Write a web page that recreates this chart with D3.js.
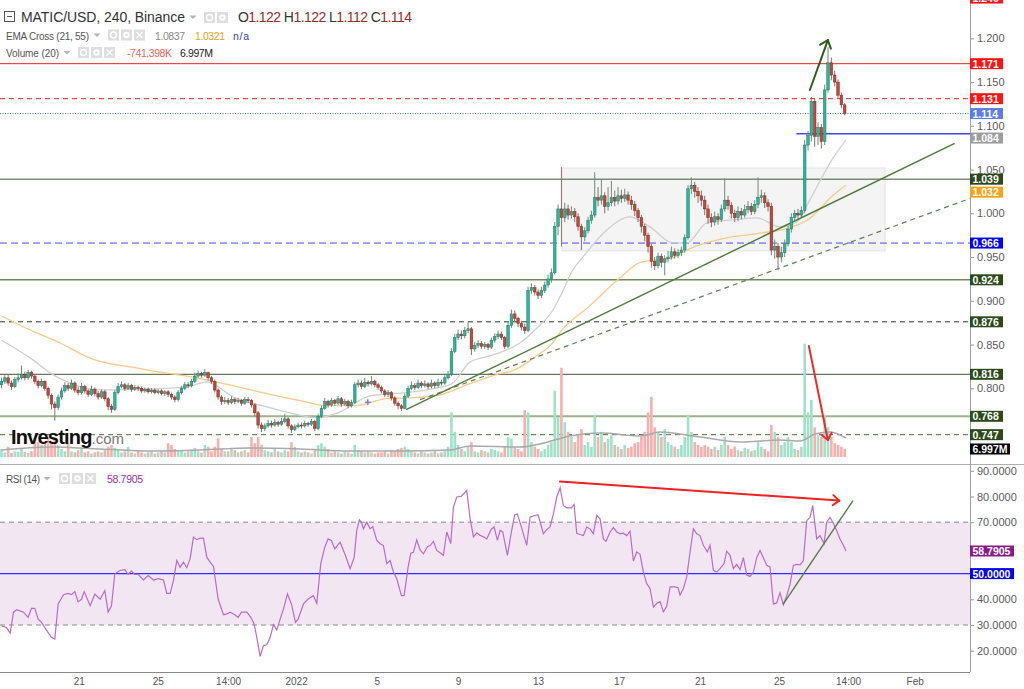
<!DOCTYPE html>
<html><head><meta charset="utf-8">
<script src="https://cdn.jsdelivr.net/npm/d3@7"></script>
<style>body{margin:0;background:#fff;}svg{display:block;font-family:"Liberation Sans",Arial,sans-serif;}</style>
</head><body><svg id="c" width="1024" height="689"></svg>
<script>
// ---------------- DATA ----------------
const firstOpen = 0.804;
const closes = [0.808,0.812,0.806,0.802,0.810,0.812,0.816,0.812,0.818,0.814,
0.808,0.803,0.808,0.800,0.792,0.782,0.778,0.790,0.797,0.803,
0.800,0.806,0.798,0.795,0.802,0.797,0.793,0.799,0.794,0.790,
0.796,0.788,0.779,0.776,0.795,0.802,0.804,0.800,0.803,0.799,
0.801,0.800,0.797,0.799,0.796,0.798,0.795,0.797,0.794,0.796,
0.793,0.790,0.787,0.795,0.800,0.804,0.803,0.808,0.814,0.817,
0.815,0.818,0.812,0.808,0.798,0.790,0.785,0.786,0.784,0.787,
0.785,0.786,0.783,0.787,0.786,0.781,0.772,0.758,0.754,0.757,
0.760,0.758,0.761,0.759,0.762,0.765,0.757,0.753,0.756,0.758,
0.757,0.760,0.759,0.762,0.754,0.768,0.777,0.785,0.781,0.786,
0.783,0.788,0.782,0.785,0.780,0.784,0.804,0.806,0.802,0.807,
0.805,0.808,0.804,0.801,0.797,0.793,0.795,0.789,0.783,0.780,
0.777,0.791,0.800,0.803,0.801,0.806,0.803,0.805,0.802,0.806,
0.803,0.807,0.806,0.812,0.816,0.842,0.858,0.862,0.860,0.866,
0.868,0.845,0.849,0.851,0.848,0.850,0.847,0.855,0.859,0.862,
0.858,0.848,0.872,0.885,0.880,0.874,0.870,0.866,0.912,0.915,
0.910,0.906,0.912,0.918,0.925,0.932,0.985,1.005,0.995,1.005,
0.998,1.002,0.996,0.985,0.973,0.980,0.992,0.998,1.018,1.015,
1.020,1.008,1.012,1.018,1.014,1.020,1.017,1.021,1.015,1.010,
1.003,0.995,0.985,0.975,0.962,0.945,0.940,0.951,0.944,0.948,
0.950,0.956,0.952,0.955,0.958,0.972,1.028,1.032,1.025,1.020,
1.015,1.005,0.995,0.990,0.996,0.993,1.005,1.015,1.009,1.000,
0.995,1.002,0.998,1.004,1.008,1.002,1.010,1.018,1.020,1.012,
1.008,0.958,0.962,0.950,0.955,0.965,0.982,0.995,1.000,0.998,
1.003,1.078,1.089,1.128,1.088,1.098,1.082,1.141,1.172,1.158,
1.150,1.135,1.124,1.114];
const highs = [.812,.815,.816,.809,.813,.817,.826,.819,.821,.820,
.816,.810,.811,.809,.802,.794,.785,.793,.801,.807,
.806,.810,.808,.802,.806,.804,.799,.803,.801,.797,
.799,.798,.790,.782,.798,.806,.808,.806,.806,.805,
.804,.803,.802,.801,.801,.800,.800,.799,.799,.798,
.798,.795,.792,.798,.803,.807,.807,.811,.818,.820,
.819,.822,.819,.814,.810,.800,.792,.790,.789,.791,
.789,.789,.788,.790,.790,.788,.783,.774,.761,.760,
.764,.763,.765,.763,.766,.771,.767,.759,.759,.761,
.761,.763,.762,.765,.764,.771,.780,.789,.787,.789,
.788,.791,.790,.788,.787,.787,.807,.810,.809,.812,
.809,.814,.810,.806,.803,.799,.798,.797,.791,.785,
.782,.794,.803,.808,.806,.810,.808,.809,.807,.810,
.808,.811,.810,.815,.820,.846,.862,.867,.866,.870,
.876,.870,.853,.855,.854,.853,.852,.858,.863,.866,
.865,.860,.876,.890,.889,.882,.877,.874,.916,.920,
.918,.913,.916,.922,.930,.937,.990,1.010,1.053,1.012,
1.010,1.008,1.006,1.000,.988,.984,.996,1.003,1.047,1.030,
1.038,1.024,1.030,1.037,1.026,1.030,1.027,1.028,1.025,1.020,
1.014,1.006,.998,.988,.978,.965,.950,.955,.954,.952,
.957,.962,.960,.959,.962,.976,1.032,1.041,1.036,1.030,
1.026,1.020,1.010,1.000,1.002,1.000,1.010,1.040,1.020,1.013,
1.004,1.008,1.006,1.010,1.014,1.012,1.015,1.041,1.027,1.024,
1.016,1.012,.970,.966,.962,.970,.986,1.000,1.004,1.005,
1.008,1.084,1.094,1.133,1.131,1.104,1.102,1.147,1.190,1.178,
1.163,1.153,1.138,1.126];
const lows = [.800,.805,.803,.798,.800,.807,.810,.809,.810,.811,
.805,.800,.801,.797,.788,.776,.763,.775,.787,.795,
.797,.798,.795,.792,.793,.794,.790,.791,.791,.787,
.788,.785,.775,.772,.774,.793,.800,.797,.798,.796,
.797,.797,.795,.795,.794,.794,.793,.793,.792,.791,
.790,.787,.784,.785,.793,.798,.800,.801,.806,.812,
.812,.813,.809,.805,.795,.787,.781,.782,.781,.782,
.782,.783,.780,.781,.783,.778,.768,.754,.750,.751,
.755,.755,.756,.756,.757,.760,.754,.749,.751,.754,
.754,.755,.756,.757,.751,.752,.766,.775,.778,.779,
.780,.781,.779,.780,.777,.778,.782,.801,.799,.800,
.802,.803,.801,.798,.794,.790,.790,.786,.780,.776,
.774,.776,.789,.798,.798,.799,.800,.801,.799,.800,
.800,.801,.803,.804,.810,.814,.840,.855,.856,.857,
.863,.838,.842,.846,.845,.845,.844,.845,.852,.856,
.855,.845,.846,.869,.876,.870,.866,.862,.864,.908,
.906,.902,.903,.909,.915,.921,.930,.975,.962,.990,
.993,.994,.990,.980,.958,.968,.977,.988,.995,1.008,
1.010,1.000,1.003,1.008,1.008,1.010,1.012,1.013,1.010,1.004,
.997,.990,.978,.968,.955,.938,.935,.937,.938,.929,
.944,.947,.948,.949,.951,.955,.970,1.022,1.018,1.012,
1.008,.998,.988,.984,.986,.987,.990,1.002,1.004,.994,
.990,.991,.993,.995,1.000,.998,.999,1.006,1.012,1.006,
1.002,.952,.948,.935,.944,.950,.962,.978,.991,.993,
.995,1.000,1.072,1.082,1.076,1.078,1.074,1.078,1.138,1.152,
1.145,1.131,1.120,1.112];
// volume, millions
const volumes = [7,4,9,3.5,5,4.5,7,4.5,3.5,5,
15,13,10.5,14,17.5,12,16,10.5,7,5,
12,5,4,6,7,4,5,3,4,5,
4,6,9,10.5,8,6,4,5,9,4,
3,5,4,3,4,5,3,4,5,4,
12,10.5,7,5,6,4,5,6,8,5,
4,10.5,9,5,9,16.5,7,5,5,8,
6,4,5,6,4,17.5,12,17.5,10.5,6,
5,4,7,5,4,6,5,13,9,5,
4,5,4,3,6,10.5,12,9,7,4,
5,4,3,5,4,3,10.5,6,5,4,
5,4,3,4,4,5,3,6,5,7,
8,9,7,5,4,3,5,4,3,4,
5,3,4,5,9,39,22,10.5,7,5,
9,13,5,4,6,5,4,7,6,5,
4,9,17.5,16,8,7,5,41,39,13,
9,7,5,7,10.5,13,58,35,78,30.5,
22,17.5,13,19,24.5,10.5,13,9,37,17.5,
22,13,16,19,10.5,9,7,10.5,8,9,
12,13,17.5,22,39,52.5,26,22,17.5,24.5,
13,10.5,9,7,10.5,17.5,37,22,13,10.5,
9,10.5,9,7,9,6,10.5,17.5,10.5,7,
9,6,5,8,7,5,6,13,9,7,
5,28,22,17.5,10.5,13,17.5,13,7,6,
9,99,39,50,26,19,17.5,37,26,17.5,
12,10.5,9,7];
// volume moving average (20), read as [candle index, value]
const volMA = [[0,6.1],[14.6,8.7],[29.6,7],[44.6,5.2],[59.6,6.1],[74.6,7.9],[89.6,7],[104.6,5.2],[119.6,5.2],[134.6,6.1],[140.6,9.6],[155.6,8.7],[161.6,11.4],[170.6,18.4],[179.6,21],[191.6,18.4],[197.6,21.9],[209.6,17.5],[221.6,13.1],[233.6,14.9],[239.6,14],[244.1,20.1],[248.6,21.9],[253.4,16.6]];
// EMA 21 (grey) and EMA 55 (orange), read as [candle index, price]
const emaFast = [[0,0.855],[9.45,0.8325],[14.55,0.8176],[19.65,0.8073],[29.55,0.7982],[44.55,0.7993],[55.65,0.8016],[61.65,0.8073],[69.45,0.7902],[79.65,0.7787],[86.55,0.7719],[94.65,0.7662],[101.55,0.773],[110.55,0.7913],[120.45,0.7947],[130.65,0.8004],[135.45,0.8061],[140.55,0.8301],[147.45,0.8381],[155.55,0.8518],[160.65,0.869],[165.45,0.8895],[167.55,0.9044],[171.45,0.9353],[174.45,0.9502],[181.65,0.981],[188.55,0.9959],[194.55,0.9845],[201.45,0.9662],[205.65,0.9662],[211.65,0.989],[219.45,0.9925],[226.65,0.9948],[233.55,0.9845],[238.65,0.9902],[242.55,1.0154],[249.15,1.0611],[253.35,1.0837]];
const emaSlow = [[0,0.8826],[8.55,0.8667],[17.55,0.8518],[26.55,0.8346],[41.55,0.8225],[59.55,0.8111],[69.45,0.8031],[79.65,0.7939],[89.55,0.7859],[97.65,0.7802],[106.05,0.7802],[115.65,0.7882],[123.45,0.7893],[130.65,0.7916],[140.55,0.8053],[149.55,0.8168],[153.45,0.8202],[160.65,0.8374],[165.45,0.8522],[167.55,0.8637],[176.55,0.8945],[184.65,0.9231],[191.55,0.9437],[201.45,0.9494],[206.55,0.9597],[216.45,0.9711],[226.65,0.9768],[236.55,0.9837],[241.65,0.9917],[249.45,1.0203],[253.35,1.0321]];
// RSI(14), read as [candle index, value]
const rsiPoints = [[0,29.7],[1.5,29],[2.6,26.8],[3.6,35],[4.6,36],[6.6,35],[8,33],[9,36.5],[10,36.5],[11,32.3],[12,31],[13.6,27.8],[15,25.2],[16,24.5],[17,38.2],[18.6,41.8],[20,42.3],[21,41.8],[22,43],[23,39],[24,40],[24.8,43],[26.6,37.5],[28,42],[29.6,40],[31,43.4],[32,35],[33,37.5],[34,49.9],[35.6,51.2],[37,51.5],[38,49.7],[39,51],[40,49.7],[41,49.7],[42.6,47.5],[44,49.2],[45.6,47.5],[47,48],[48.6,47.5],[49.6,42.3],[50.6,42.3],[51.6,47.3],[52.6,55.1],[53.6,52.5],[54.6,54.5],[55.6,52.3],[56.6,55.8],[57.6,64.2],[58.6,63.2],[59.6,63.8],[60.6,63.8],[61.6,56.4],[62.6,54.5],[63.6,52.8],[65,40.1],[66.6,34],[67.6,34.3],[68.6,35],[70,34],[71,33],[72,35],[73.6,35],[74.8,33],[75.8,30.4],[76.6,25.2],[77.6,17.8],[78.6,22],[79.6,22.3],[80.6,25.2],[81.6,30.1],[82.6,28.1],[83.6,32.3],[84.6,36.2],[85.8,42.1],[87,38.2],[88.2,31],[89,32.3],[90.6,38.2],[92,40.1],[93.6,41.4],[94.6,38.4],[95.8,53.9],[97,60.3],[98,63.5],[99,62.9],[100,59.6],[101.6,62.2],[103,57.7],[104.6,51.9],[105.8,56.2],[106.6,66.8],[107.4,70.9],[108,70],[108.6,67.4],[109.6,70],[110.6,67.4],[111.4,68.3],[112.6,62.9],[113.6,61.6],[114.6,60.9],[115.6,53.9],[116.6,55.1],[117.6,50.6],[118.6,48],[120,41.4],[120.8,41.4],[122,52.5],[122.8,57.9],[123.6,58.3],[124.6,63.1],[125.6,59.2],[126.6,57.7],[127.8,60.5],[128.6,60.9],
[129.6,62.5],[130.6,59],[132,57.7],[132.6,57.1],[133.6,66.2],[134.8,61.7],[135.6,75.9],[136.6,79.8],[138,80.1],[139.6,82.4],[140.6,71.4],[141.6,64.3],[142.6,65.8],[143.6,64.9],[144.6,64.3],[145.6,63.5],[147,67.4],[147.8,68.1],[148.8,62.9],[149.6,66.8],[150.4,66.2],[151.8,57.1],[153,66.2],[154,72.9],[154.8,73.2],[156,68.1],[157.6,61],[158.6,72],[160,72.6],[161,72.9],[162.6,65.5],[163.4,66.8],[164.6,68.3],[165.6,73.2],[166.6,79.7],[167.6,83.4],[168.6,76.5],[169.6,75.6],[171,75.6],[171.8,76.9],[172.6,65.7],[173.6,65.2],[174.6,64.8],[175.6,68.1],[176.6,67.4],[177.6,65.5],[178.6,72.6],[179.6,71.3],[180.6,63.5],[181.4,62.6],[182.6,66.2],[183.6,67.9],[184.6,66.2],[185.6,65.5],[186.6,65.7],[187.6,64.8],[188.6,66.5],[189.6,54.9],[190.6,58.4],[191.6,57.5],[192.6,50.6],[193.6,46.1],[194.6,44.2],[195.6,37],[196.8,38.6],[197.6,39.1],[198.6,35.1],[199.6,37.3],[200.6,44.8],[202,44.8],[203,44.5],[203.6,41.6],[204.6,44.2],[205.6,48.7],[206.6,58.4],[207.6,67.4],[208.6,65.5],[209.6,64.8],[210.6,61],[211.8,58.4],[212.6,61],[213.6,51.3],[214.6,50.6],[215.6,51.9],[216.8,53.9],[217.6,58.7],[218.6,57.1],[219.6,51.9],[220.6,53.6],[221.6,51.6],[222.6,56.2],[223.6,49.4],[224.6,48.9],[225.6,50.6],[226.6,56.2],[227.6,59],[228.6,56.2],[229.6,53.2],[230.6,52.6],[231.6,38.2],[232.6,38.6],[233.6,42.5],[234.6,37.9],[235.6,41.4],[236.6,45.8],[237.6,53.2],[238.6,53.6],[239.6,53.4],[240.6,55.1],[241.6,70.6],[242.6,71.9],[243.4,76.5],[244.6,63.5],[245.6,64.8],[246.8,61.6],[247.6,70],[248.6,71.9],[249.6,69.6],[250.6,66.8],[251.6,63.5],[252.6,61],[253.4,58.79]];
// horizontal levels
const levelPrices = [1.171, 1.131, 1.039, 0.966, 0.924, 0.876, 0.816, 0.768, 0.747];
const lastPrice = 1.114;
const shortLevel = {from: 238.5, price: 1.091};
const emaFastLast = 1.0837, emaSlowLast = 1.0321;
const lastVolume = 6.997;
const rsiLast = 58.7905;
const topCutLevel = 1.246;
// ticks
const priceTicks = [0.800,0.850,0.900,0.950,1.000,1.050,1.100,1.150,1.200];
const rsiTicks = [20,30,40,70,80,90];
const xTickIdx = [23.2, 46.9, 68, 88.4, 112.6, 137, 161, 185.3, 209.6, 233.3, 254, 274];
const xTickLabels = ["21","25","14:00","2022","5","9","13","17","21","25","14:00","Feb"];
// annotations (candle index, price / volume / rsi)
const rangeBox = {i0:168.2, i1:265.1, p0:0.957, p1:1.0518};
const trendSolid = [[121.4,0.7755],[286,1.080]];
const trendDashed = [[125.6,0.787],[290.6,1.017]];
const greenArrow = [[242.55,1.1409],[247.95,1.1979]];
const volArrow = [[242.25,97],[247.95,14.9]];
const rsiArrow = [[167.6,85.8],[251.35,78.4]];
const rsiTrend = [[234.5,38.05],[255.5,78.4]];
const marker = [109.9,0.784];

// ---------------- DRAW ----------------
const svg = d3.select("#c");
svg.append("rect").attr("width",1024).attr("height",689).attr("fill","#fff");
const AX = 970;
const x = d3.scaleLinear().domain([0,290.6]).range([1.5,970]);
const y = d3.scaleLinear().domain([0.8,1.2]).range([388.3,38.3]);
const yv = d3.scaleLinear().domain([0,100]).range([457,342.6]);
const yr = d3.scaleLinear().domain([20,90]).range([650.7,470.8]);

const defs = svg.append("defs");
defs.append("clipPath").attr("id","cm").append("rect").attr("x",0).attr("y",0).attr("width",AX).attr("height",463);
defs.append("clipPath").attr("id","cr").append("rect").attr("x",0).attr("y",466).attr("width",AX).attr("height",205);

const main = svg.append("g").attr("clip-path","url(#cm)");

// range box
main.append("rect").attr("x",x(rangeBox.i0)).attr("width",x(rangeBox.i1)-x(rangeBox.i0))
  .attr("y",y(rangeBox.p1)).attr("height",y(rangeBox.p0)-y(rangeBox.p1))
  .attr("fill","#efefef").attr("fill-opacity",0.7).attr("stroke","#e4e4e4");

// levels
const levelStyles = [
 {c:"#e52222",w:1,d:null,t:"#ff1414"},
 {c:"#e52222",w:1,d:"5,4",t:"#ff1414"},
 {c:"#3f5733",w:1,d:null,t:"#2b4a1b"},
 {c:"#4a4af0",w:1,d:"7,4",t:"#0000ff"},
 {c:"#6e8a5c",w:1.5,d:null,t:"#2b4a1b"},
 {c:"#333",w:1,d:"5,4",t:"#2b4a1b"},
 {c:"#3f5733",w:1,d:null,t:"#2b4a1b"},
 {c:"#9bb38b",w:2,d:null,t:"#2b4a1b"},
 {c:"#4d6b3d",w:1,d:"5,4",t:"#2b4a1b"}];
main.selectAll(".lvl").data(levelPrices).join("line").attr("class","lvl")
  .attr("x1",0).attr("x2",AX).attr("y1",d=>y(d)).attr("y2",d=>y(d))
  .attr("stroke",(d,i)=>levelStyles[i].c).attr("stroke-width",(d,i)=>levelStyles[i].w)
  .attr("stroke-dasharray",(d,i)=>levelStyles[i].d);
main.append("line").attr("x1",0).attr("x2",AX).attr("y1",y(lastPrice)).attr("y2",y(lastPrice))
  .attr("stroke","#3d66ee").attr("stroke-dasharray","1,1.5");
main.append("line").attr("x1",x(shortLevel.from)).attr("x2",AX).attr("y1",y(shortLevel.price)).attr("y2",y(shortLevel.price))
  .attr("stroke","#4848e0").attr("stroke-width",1.5);

// candles data
const candles = closes.map((c,i)=>({i,o:i?closes[i-1]:firstOpen,c,h:highs[i],l:lows[i],v:volumes[i]}));

// volume
main.selectAll(".vol").data(candles).join("rect").attr("class","vol")
  .attr("x",d=>x(d.i)-1.3).attr("width",2.6)
  .attr("y",d=>yv(d.v)).attr("height",d=>yv(0)-yv(d.v))
  .attr("fill",d=>d.c>=d.o?"#9fe2c8":"#f7b0ae");
main.append("path").datum(volMA).attr("fill","none").attr("stroke","#a9a9a9").attr("stroke-width",1.5)
  .attr("d",d3.line().x(d=>x(d[0])).y(d=>yv(d[1])).curve(d3.curveMonotoneX));

// logo
const logo = main.append("text").attr("x",11).attr("y",444);
logo.append("tspan").text("Investing").attr("font-size",20).attr("font-weight","bold").attr("fill","#111").attr("letter-spacing","-0.8");
logo.append("tspan").text(".com").attr("font-size",15).attr("fill","#777");

// EMAs
main.append("path").datum(emaSlow).attr("fill","none").attr("stroke","#fbc98a").attr("stroke-width",1.3)
  .attr("d",d3.line().x(d=>x(d[0])).y(d=>y(d[1])).curve(d3.curveMonotoneX));
main.append("path").datum(emaFast).attr("fill","none").attr("stroke","#cfcfcf").attr("stroke-width",1.3)
  .attr("d",d3.line().x(d=>x(d[0])).y(d=>y(d[1])).curve(d3.curveMonotoneX));

// trendlines
const pl = d3.line().x(d=>x(d[0])).y(d=>y(d[1]));
main.append("path").datum(trendSolid).attr("d",pl).attr("stroke","#4d7a3a").attr("stroke-width",1.4).attr("fill","none");
main.append("path").datum(trendDashed).attr("d",pl).attr("stroke","#5f7d52").attr("stroke-width",1.2).attr("stroke-dasharray","5,4").attr("fill","none");

// candles
main.selectAll(".wick").data(candles).join("line").attr("class","wick")
  .attr("x1",d=>x(d.i)).attr("x2",d=>x(d.i)).attr("y1",d=>y(d.h)).attr("y2",d=>y(d.l))
  .attr("stroke",d=>d.c>=d.o?"#6f8a78":"#8a6f6a").attr("stroke-width",1);
main.selectAll(".body").data(candles).join("rect").attr("class","body")
  .attr("x",d=>x(d.i)-1.3).attr("width",2.6)
  .attr("y",d=>y(Math.max(d.o,d.c))).attr("height",d=>Math.max(1,Math.abs(y(d.o)-y(d.c))))
  .attr("fill",d=>d.c>=d.o?"#1fbb9c":"#c8453a")
  .attr("stroke",d=>d.c>=d.o?"#3b6b5c":"#6e3029").attr("stroke-width",0.5);

// marker
main.append("path").attr("d",`M${x(marker[0])-3},${y(marker[1])}h6M${x(marker[0])},${y(marker[1])-3}v6`)
  .attr("stroke","#8a80d8").attr("stroke-width",1.5);

function arrow(g, p1, p2, color, w, head){
  g.append("line").attr("x1",p1[0]).attr("y1",p1[1]).attr("x2",p2[0]).attr("y2",p2[1])
    .attr("stroke",color).attr("stroke-width",w).attr("stroke-linecap","round");
  const a = Math.atan2(p2[1]-p1[1], p2[0]-p1[0]);
  [Math.PI*0.78,-Math.PI*0.78].forEach(da=>{
    g.append("line").attr("x1",p2[0]).attr("y1",p2[1])
     .attr("x2",p2[0]+head*Math.cos(a+da)).attr("y2",p2[1]+head*Math.sin(a+da))
     .attr("stroke",color).attr("stroke-width",w).attr("stroke-linecap","round");
  });
}
arrow(main,[x(greenArrow[0][0]),y(greenArrow[0][1])],[x(greenArrow[1][0]),y(greenArrow[1][1])],"#2f5f1f",2,9);
arrow(main,[x(volArrow[0][0]),yv(volArrow[0][1])],[x(volArrow[1][0]),yv(volArrow[1][1])],"#ee2a2a",2,8);

// ---------------- RSI pane ----------------
const rp = svg.append("g").attr("clip-path","url(#cr)");
rp.append("rect").attr("x",0).attr("width",AX).attr("y",yr(70)).attr("height",yr(30)-yr(70)).attr("fill","#f3e6f3");
[70,30].forEach(v=>rp.append("line").attr("x1",0).attr("x2",AX).attr("y1",yr(v)).attr("y2",yr(v))
  .attr("stroke","#8c8c8c").attr("stroke-dasharray","5,4"));
rp.append("line").attr("x1",0).attr("x2",AX).attr("y1",yr(50)).attr("y2",yr(50)).attr("stroke","#2d2dff").attr("stroke-width",1.2);
rp.append("path").datum(rsiPoints).attr("fill","none").attr("stroke","#b86cc9").attr("stroke-width",1.2)
  .attr("d",d3.line().x(d=>x(d[0])).y(d=>yr(d[1])));
arrow(rp,[x(rsiArrow[0][0]),yr(rsiArrow[0][1])],[x(rsiArrow[1][0]),yr(rsiArrow[1][1])],"#ee2222",2,8);
rp.append("line").attr("x1",x(rsiTrend[0][0])).attr("y1",yr(rsiTrend[0][1])).attr("x2",x(rsiTrend[1][0])).attr("y2",yr(rsiTrend[1][1]))
  .attr("stroke","#5c7a4e").attr("stroke-width",1.4);

// ---------------- frame & axes ----------------
svg.append("line").attr("x1",0).attr("x2",1024).attr("y1",464.5).attr("y2",464.5).attr("stroke","#b0b0b0");
svg.append("line").attr("x1",AX+0.5).attr("x2",AX+0.5).attr("y1",0).attr("y2",672).attr("stroke","#a0a0a0");
svg.append("line").attr("x1",0).attr("x2",AX).attr("y1",672.5).attr("y2",672.5).attr("stroke","#8a8a8a");

function styleAxis(g){
  g.select(".domain").remove();
  g.selectAll(".tick line").attr("stroke","#999");
  g.selectAll(".tick text").attr("fill","#5a5a5a").attr("font-size",11).attr("font-family","'Liberation Sans',Arial,sans-serif");
}
svg.append("g").attr("transform",`translate(${AX},0)`)
  .call(d3.axisRight(y).tickValues(priceTicks).tickFormat(d3.format(".3f")).tickSize(4).tickPadding(3)).call(styleAxis);
svg.append("g").attr("transform",`translate(${AX},0)`)
  .call(d3.axisRight(yr).tickValues(rsiTicks).tickFormat(d3.format(".4f")).tickSize(4).tickPadding(3)).call(styleAxis);
const xa = svg.append("g").attr("transform","translate(0,672)")
  .call(d3.axisBottom(x).tickValues(xTickIdx).tickFormat((d,i)=>xTickLabels[i]).tickSize(0).tickPadding(6));
xa.select(".domain").remove();
xa.selectAll(".tick text").attr("fill","#555").attr("font-size",10).attr("font-family","'Liberation Sans Narrow','Liberation Sans',Arial,sans-serif");

// right tags
function tag(yc, txt, fill, w){
  svg.append("rect").attr("x",AX).attr("y",yc-5.5).attr("width",w).attr("height",11).attr("fill",fill);
  svg.append("text").attr("x",AX+2.5).attr("y",yc+4).text(txt).attr("fill","#fff")
    .attr("font-size",10.5).attr("font-weight","bold");
}
const fmt3 = d3.format(".3f");
let tags = levelPrices.map((p,i)=>({y:y(p),t:fmt3(p),c:levelStyles[i].t,w:33}));
tags.push({y:y(lastPrice),t:fmt3(lastPrice),c:"#5b7de8",w:33});
tags.push({y:y(emaFastLast)-2,t:fmt3(emaFastLast),c:"#9d9d9d",w:33});
tags.push({y:y(emaSlowLast),t:fmt3(emaSlowLast),c:"#f7a21b",w:33});
tags.sort((a,b)=>a.y-b.y);
for(let k=1;k<tags.length;k++){ if(tags[k].y<tags[k-1].y+13) tags[k].y=tags[k-1].y+13; }
tags.forEach(d=>tag(d.y,d.t,d.c,d.w));
tag(y(topCutLevel), fmt3(topCutLevel), "#ff1414", 33);
tag(yv(lastVolume), d3.format(".3f")(lastVolume)+"M", "#000", 40);
tag(yr(rsiLast), d3.format(".4f")(rsiLast), "#8a1a8a", 44);
tag(yr(50), d3.format(".4f")(50), "#0000ff", 44);

// ---------------- headers ----------------
const hd = svg.append("g");
function icons(x0, y0, n){
  for(let k=0;k<n;k++){
    const gx = x0 + k*13;
    hd.append("rect").attr("x",gx).attr("y",y0).attr("width",11).attr("height",11).attr("fill","#dedede");
    if(k===0){ hd.append("circle").attr("cx",gx+5.5).attr("cy",y0+5.5).attr("r",3).attr("fill","none").attr("stroke","#fff").attr("stroke-width",1.3); }
    else if(k===1){ hd.append("circle").attr("cx",gx+5.5).attr("cy",y0+5.5).attr("r",3.2).attr("fill","#fff");
      hd.append("circle").attr("cx",gx+5.5).attr("cy",y0+5.5).attr("r",1.3).attr("fill","#dedede"); }
    else { hd.append("path").attr("d",`M${gx+2.5},${y0+2.5}L${gx+8.5},${y0+8.5}M${gx+8.5},${y0+2.5}L${gx+2.5},${y0+8.5}`).attr("stroke","#fff").attr("stroke-width",1.3); }
  }
}
function caret(cx, cy){ hd.append("path").attr("d",`M${cx-3.5},${cy-1.5}h7l-3.5,3.5z`).attr("fill","#b5b5b5"); }
// row 1
hd.append("rect").attr("x",4.5).attr("y",11.5).attr("width",10).attr("height",10).attr("fill","none").attr("stroke","#555");
hd.append("line").attr("x1",7).attr("x2",12).attr("y1",16.5).attr("y2",16.5).attr("stroke","#555");
hd.append("text").attr("x",21).attr("y",22).attr("font-size",14).attr("fill","#333").attr("textLength",164).text("MATIC/USD, 240, Binance");
caret(193,17);
icons(204,12,2);
const ohlc = hd.append("text").attr("x",238).attr("y",22).attr("font-size",14).attr("textLength",174);
[["O","1.122"],["H","1.122"],["L","1.112"],["C","1.114"]].forEach((p,k)=>{
  ohlc.append("tspan").text((k?" ":"")+p[0]).attr("fill","#333");
  ohlc.append("tspan").text(p[1]).attr("fill","#9b2c25");
});
// row 2
hd.append("text").attr("x",6).attr("y",39.5).attr("font-size",10).attr("fill","#555").attr("textLength",83).text("EMA Cross (21, 55)");
caret(97,35);
icons(108,29.5,3);
hd.append("text").attr("x",155).attr("y",39.5).attr("font-size",10.5).attr("fill","#8a8a8a").attr("textLength",30).text("1.0837");
hd.append("text").attr("x",195).attr("y",39.5).attr("font-size",10.5).attr("fill","#f39c12").attr("textLength",30).text("1.0321");
hd.append("text").attr("x",233).attr("y",39.5).attr("font-size",10.5).attr("fill","#3a3ac8").attr("textLength",16).text("n/a");
// row 3
hd.append("text").attr("x",6).attr("y",57).attr("font-size",10).attr("fill","#555").attr("textLength",53).text("Volume (20)");
caret(67,52.5);
icons(78,47,3);
hd.append("text").attr("x",127).attr("y",57).attr("font-size",10.5).attr("fill","#f2625a").attr("textLength",45).text("-741.398K");
hd.append("text").attr("x",180).attr("y",57).attr("font-size",10.5).attr("fill","#222").attr("textLength",33).text("6.997M");
// RSI header
hd.append("text").attr("x",6).attr("y",483).attr("font-size",10).attr("fill","#555").attr("textLength",34).text("RSI (14)");
caret(47,478.5);
icons(59,473,3);
hd.append("text").attr("x",107).attr("y",483).attr("font-size",10.5).attr("fill","#9b30a8").attr("textLength",36).text("58.7905");
</script></body></html>
